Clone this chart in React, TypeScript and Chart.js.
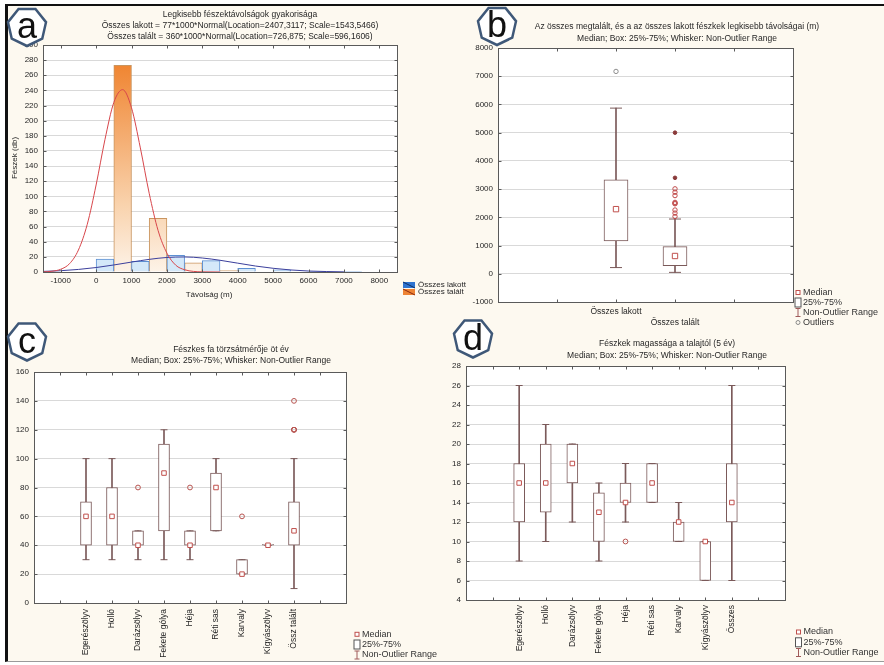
import React, { useEffect, useRef } from 'react';
import { Chart, registerables } from 'chart.js';

Chart.register(...registerables);

const FONT = 'Arial, "Liberation Sans", Helvetica, sans-serif';
Chart.defaults.font.family = FONT;

const TEXT = '#262626';
const BOX = '#7b5a5a';
const MEDIAN = '#c0504d';
const GRID = '#d9d9d9';
const FRAME = '#5a5a5a';
const W = 884;
const H = 665;
const Y_AXIS_W = 30;
const X_AXIS_H = 60;

// ---------------- Panel a: histogram of nearest-nest distances ----------------
const histTitle = [
  'Legkisebb fészektávolságok gyakorisága',
  'Összes lakott = 77*1000*Normal(Location=2407,3117; Scale=1543,5466)',
  'Összes talált = 360*1000*Normal(Location=726,875; Scale=596,1606)',
];
const histSeriesNames = ['Összes lakott', 'Összes talált'];
const histBinCenters = [500, 1500, 2500, 3500, 4500, 5500, 6500, 7500];
const lakottCounts = [17, 14, 22, 15, 5, 3, 1, 1];
const talaltCounts = [273, 71, 12, 2, 0, 0, 0, 0];
const distanceTicks = [-1000, 0, 1000, 2000, 3000, 4000, 5000, 6000, 7000, 8000];
const lakottFitX = [-1500, -1000, -500, 0, 500, 1000, 1500, 2000, 2500, 3000, 3500, 4000, 4500, 5000, 5500, 6000, 6500, 7000];
const lakottFitY = [0.8, 1.7, 3.4, 5.9, 9.3, 13.1, 16.7, 19.2, 19.9, 18.5, 15.5, 11.7, 7.9, 4.9, 2.7, 1.3, 0.6, 0.2];
const talaltFitX = [-1500, -1250, -1000, -750, -500, -250, 0, 250, 500, 750, 1000, 1250, 1500, 1750, 2000, 2250, 2500, 2750, 3000, 3500];
const talaltFitY = [0.2, 1, 3.6, 11, 29, 63, 115, 175, 224, 241, 217, 164, 104, 55, 25, 9, 3, 0.8, 0.2, 0];
const histXTitle = 'Távolság (m)';
const histYTitle = 'Fészek (db)';

// ---------------- Panel b: distances box plot ----------------
const distTitle = [
  'Az összes megtalált, és a az összes lakott fészkek legkisebb távolságai (m)',
  'Median; Box: 25%-75%; Whisker: Non-Outlier Range',
];
const distCategories = ['Összes lakott', 'Összes talált'];
const distMin = [220, 50];
const distQ1 = [1160, 290];
const distMedian = [2290, 630];
const distQ3 = [3330, 960];
const distMax = [5870, 1940];
const distOutlierGroup = ['Összes lakott', 'Összes talált', 'Összes talált', 'Összes talált', 'Összes talált', 'Összes talált', 'Összes talált', 'Összes talált', 'Összes talált', 'Összes talált'];
const distOutlierValue = [7170, 3010, 2890, 2770, 2530, 2500, 2480, 2260, 2150, 2030];
const distExtremeGroup = ['Összes talált', 'Összes talált'];
const distExtremeValue = [5000, 3400];

// ---------------- Panel c: trunk diameter ----------------
const dbhTitle = ['Fészkes fa törzsátmérője öt év', 'Median; Box: 25%-75%; Whisker: Non-Outlier Range'];
const dbhSpecies = ['Egerészölyv', 'Holló', 'Darázsölyv', 'Fekete gólya', 'Héja', 'Réti sas', 'Karvaly', 'Kígyászölyv', 'Össz talált'];
const dbhMin = [30, 30, 30, 30, 30, 50, 20, 40, 10];
const dbhQ1 = [40, 40, 40, 50, 40, 50, 20, 40, 40];
const dbhMedian = [60, 60, 40, 90, 40, 80, 20, 40, 50];
const dbhQ3 = [70, 80, 50, 110, 50, 90, 30, 40, 70];
const dbhMax = [100, 100, 50, 120, 50, 100, 30, 40, 100];
const dbhOutlierGroup = ['Darázsölyv', 'Héja', 'Karvaly', 'Össz talált', 'Össz talált', 'Össz talált', 'Össz talált'];
const dbhOutlierValue = [80, 80, 60, 140, 120, 120, 120];

// ---------------- Panel d: nest height ----------------
const heightTitle = ['Fészkek magassága a talajtól (5 év)', 'Median; Box: 25%-75%; Whisker: Non-Outlier Range'];
const heightSpecies = ['Egerészölyv', 'Holló', 'Darázsölyv', 'Fekete gólya', 'Héja', 'Réti sas', 'Karvaly', 'Kígyászölyv', 'Összes'];
const heightMin = [8, 10, 12, 8, 12, 14, 10, 6, 6];
const heightQ1 = [12, 13, 16, 10, 14, 14, 10, 6, 12];
const heightMedian = [16, 16, 18, 13, 14, 16, 12, 10, 14];
const heightQ3 = [18, 20, 20, 15, 16, 18, 12, 10, 18];
const heightMax = [26, 22, 20, 16, 18, 18, 14, 10, 26];
const heightOutlierGroup = ['Héja'];
const heightOutlierValue = [10];

const boxLegendLabels = ['Median', '25%-75%', 'Non-Outlier Range', 'Outliers'];

// ---------------- helpers ----------------
type Area = { left: number; top: number; right: number; bottom: number };

function layoutFor(a: Area) {
  return {
    padding: {
      left: a.left - Y_AXIS_W,
      top: a.top,
      right: W - a.right,
      bottom: Math.max(0, H - a.bottom - X_AXIS_H),
    },
  };
}

function text(ctx: CanvasRenderingContext2D, s: string, x: number, y: number, size = 8.5, align: CanvasTextAlign = 'center', rot = 0, color = TEXT) {
  ctx.save();
  ctx.translate(x, y);
  if (rot) ctx.rotate(rot);
  ctx.font = `${size}px ${FONT}`;
  ctx.fillStyle = color;
  ctx.textAlign = align;
  ctx.textBaseline = 'middle';
  ctx.fillText(s, 0, 0);
  ctx.restore();
}

function panelPlugin(id: string, decorate: (ctx: CanvasRenderingContext2D, chart: any) => void) {
  return {
    id,
    beforeDraw(chart: any) {
      const { ctx, chartArea: a } = chart;
      ctx.save();
      ctx.fillStyle = '#ffffff';
      ctx.fillRect(a.left, a.top, a.right - a.left, a.bottom - a.top);
      ctx.restore();
    },
    afterDraw(chart: any) {
      const { ctx, chartArea: a } = chart;
      const L = Math.round(a.left) + 0.5;
      const T = Math.round(a.top) + 0.5;
      const R = Math.round(a.right) + 0.5;
      const B = Math.round(a.bottom) + 0.5;
      ctx.save();
      ctx.strokeStyle = FRAME;
      ctx.lineWidth = 1;
      ctx.strokeRect(L, T, R - L, B - T);
      ctx.beginPath();
      const xs = chart.scales.x;
      xs.ticks.forEach((t: any) => {
        const p = Math.round(xs.getPixelForValue(t.value)) + 0.5;
        if (p <= L + 1 || p >= R - 1) return;
        ctx.moveTo(p, T);
        ctx.lineTo(p, T + 3);
        ctx.moveTo(p, B);
        ctx.lineTo(p, B - 3);
      });
      const ys = chart.scales.y;
      ys.ticks.forEach((t: any) => {
        const p = Math.round(ys.getPixelForValue(t.value)) + 0.5;
        if (p <= T + 1 || p >= B - 1) return;
        ctx.moveTo(L, p);
        ctx.lineTo(L + 3, p);
        ctx.moveTo(R, p);
        ctx.lineTo(R - 3, p);
      });
      ctx.stroke();
      ctx.restore();
      ctx.save();
      decorate(ctx, chart);
      ctx.restore();
    },
  };
}

function boxLegend(ctx: CanvasRenderingContext2D, tx: number, ys: number[]) {
  const mx = tx - 5;
  ys.forEach((y, i) => {
    ctx.save();
    ctx.lineWidth = 1;
    if (i === 0) {
      ctx.fillStyle = '#fff';
      ctx.strokeStyle = MEDIAN;
      ctx.fillRect(mx - 2, y - 2, 4, 4);
      ctx.strokeRect(mx - 2, y - 2, 4, 4);
    } else if (i === 1) {
      ctx.fillStyle = '#fff';
      ctx.strokeStyle = '#555';
      ctx.fillRect(mx - 3, y - 4.5, 6, 9);
      ctx.strokeRect(mx - 3, y - 4.5, 6, 9);
    } else if (i === 2) {
      ctx.strokeStyle = '#a05a5a';
      ctx.beginPath();
      ctx.moveTo(mx, y - 4);
      ctx.lineTo(mx, y + 4);
      ctx.moveTo(mx - 2.5, y - 4);
      ctx.lineTo(mx + 2.5, y - 4);
      ctx.moveTo(mx - 2.5, y + 4);
      ctx.lineTo(mx + 2.5, y + 4);
      ctx.stroke();
    } else {
      ctx.strokeStyle = '#8a8a8a';
      ctx.beginPath();
      ctx.arc(mx, y, 2, 0, Math.PI * 2);
      ctx.stroke();
    }
    ctx.restore();
    text(ctx, boxLegendLabels[i], tx, y, 9, 'left', 0, '#333');
  });
}

function yScale(min: number, max: number, step: number) {
  return {
    type: 'linear',
    min,
    max,
    beginAtZero: false,
    ticks: { stepSize: step, padding: 5, color: TEXT, font: { size: 8 }, callback: (v: any) => String(v) },
    grid: { color: GRID, drawTicks: false, lineWidth: 1 },
    border: { display: false },
    afterFit: (s: any) => {
      s.width = Y_AXIS_W;
    },
  };
}

function baseOptions(area: Area, x: any, y: any) {
  return {
    responsive: false,
    maintainAspectRatio: false,
    animation: false,
    devicePixelRatio: 1,
    events: [],
    layout: layoutFor(area),
    plugins: { legend: { display: false }, title: { display: false }, tooltip: { enabled: false } },
    scales: { x, y },
  };
}

// ---------------- chart configs ----------------
function makeHistogram() {
  const area = { left: 43, top: 45, right: 397, bottom: 272 };
  const orange = (c: any) => {
    const a = c.chart.chartArea;
    if (!a) return '#f5b57a';
    const g = c.chart.ctx.createLinearGradient(0, a.bottom, 0, a.top);
    g.addColorStop(0, '#fdf3e8');
    g.addColorStop(0.3, '#f9d2ac');
    g.addColorStop(1, '#ee7a20');
    return g;
  };
  const x = {
    type: 'linear',
    min: -1500,
    max: 8500,
    offset: false,
    afterBuildTicks: (s: any) => {
      s.ticks = distanceTicks.map((v) => ({ value: v }));
    },
    ticks: { padding: 4, color: TEXT, font: { size: 8 }, autoSkip: false, maxRotation: 0, callback: (v: any) => String(v) },
    grid: { display: false, drawTicks: false, offset: false },
    border: { display: false },
    afterFit: (s: any) => {
      s.height = X_AXIS_H;
    },
  };
  return {
    type: 'bar',
    data: {
      datasets: [
        {
          type: 'line',
          label: 'Összes talált – Normal',
          order: 0,
          data: talaltFitX.map((v, i) => ({ x: v, y: talaltFitY[i] })),
          borderColor: '#d8464b',
          borderWidth: 1,
          pointRadius: 0,
          cubicInterpolationMode: 'monotone',
          fill: false,
        },
        {
          type: 'line',
          label: 'Összes lakott – Normal',
          order: 0,
          data: lakottFitX.map((v, i) => ({ x: v, y: lakottFitY[i] })),
          borderColor: '#3b3f9c',
          borderWidth: 1,
          pointRadius: 0,
          cubicInterpolationMode: 'monotone',
          fill: false,
        },
        {
          type: 'bar',
          label: histSeriesNames[0],
          order: 1,
          data: histBinCenters.map((v, i) => ({ x: v, y: lakottCounts[i] })),
          backgroundColor: '#d4e8f9',
          borderColor: '#5d90d2',
          borderWidth: 1,
          categoryPercentage: 1,
          barPercentage: 1,
        },
        {
          type: 'bar',
          label: histSeriesNames[1],
          order: 1,
          data: histBinCenters.map((v, i) => ({ x: v, y: talaltCounts[i] })),
          backgroundColor: orange,
          borderColor: '#c9955f',
          borderWidth: 1,
          categoryPercentage: 1,
          barPercentage: 1,
        },
      ],
    },
    options: baseOptions(area, x, yScale(0, 300, 20)),
    plugins: [
      panelPlugin('panelA', (ctx) => {
        histTitle.forEach((s, i) => text(ctx, s, 240, 15 + i * 10.8, 8.5));
        text(ctx, histYTitle, 15, 158, 8, 'center', -Math.PI / 2);
        text(ctx, histXTitle, 209, 295, 8);
        const sw = ['#2f74d0', '#ee8434'];
        histSeriesNames.forEach((s, i) => {
          const y = 282 + i * 7;
          ctx.fillStyle = sw[i];
          ctx.fillRect(403, y, 12, 6);
          ctx.strokeStyle = i === 0 ? '#0d2f66' : '#8a2a10';
          ctx.lineWidth = 1;
          ctx.beginPath();
          ctx.moveTo(403, y);
          ctx.lineTo(415, y + 6);
          ctx.stroke();
          text(ctx, s, 418, y + 3.2, 8, 'left');
        });
      }),
    ],
  };
}

type BoxSpec = {
  id: string;
  area: Area;
  cats: string[];
  mins: number[];
  q1s: number[];
  meds: number[];
  q3s: number[];
  maxs: number[];
  outCats: string[];
  outVals: number[];
  extCats?: string[];
  extVals?: number[];
  yMin: number;
  yMax: number;
  yStep: number;
  xMax: number;
  boxW: number;
  capR: number;
  medR: number;
  outR: number;
  stagger: boolean;
  rotate: boolean;
  labelPad: number;
  outColor: (x: number) => string;
  decorate: (ctx: CanvasRenderingContext2D, chart: any) => void;
};

function makeBoxChart(p: BoxSpec) {
  const pos = (name: string) => p.cats.indexOf(name) + 2;
  const at = (i: number) => i + 2;
  const caps: any[] = [];
  p.cats.forEach((_, i) => {
    caps.push({ x: at(i), y: p.mins[i] });
    caps.push({ x: at(i), y: p.maxs[i] });
  });
  const datasets: any[] = [
    {
      type: 'scatter',
      label: 'Outliers',
      order: 0,
      data: p.outCats.map((c, i) => ({ x: pos(c), y: p.outVals[i] })),
      pointStyle: 'circle',
      pointRadius: p.outR,
      pointBorderWidth: 1,
      pointBorderColor: (c: any) => p.outColor(c.raw ? c.raw.x : 0),
      pointBackgroundColor: 'rgba(255,255,255,0)',
    },
    {
      type: 'scatter',
      label: 'Median',
      order: 1,
      data: p.meds.map((m, i) => ({ x: at(i), y: m })),
      pointStyle: 'rect',
      pointRadius: p.medR,
      pointBorderWidth: 1,
      pointBorderColor: MEDIAN,
      pointBackgroundColor: '#ffffff',
    },
    {
      type: 'scatter',
      label: 'Whisker caps',
      order: 2,
      data: caps,
      pointStyle: 'line',
      pointRadius: p.capR,
      pointBorderWidth: 1,
      pointBorderColor: BOX,
    },
    {
      type: 'bar',
      label: '25%-75%',
      order: 3,
      grouped: false,
      barThickness: p.boxW,
      minBarLength: 1,
      data: p.q1s.map((q, i) => ({ x: at(i), y: [q, p.q3s[i]] })),
      backgroundColor: '#ffffff',
      borderColor: BOX,
      borderWidth: 1,
      borderSkipped: false,
    },
    {
      type: 'bar',
      label: 'Non-Outlier Range',
      order: 4,
      grouped: false,
      barThickness: 1,
      data: p.mins.map((m, i) => ({ x: at(i), y: [m, p.maxs[i]] })),
      backgroundColor: BOX,
      borderWidth: 0,
    },
  ];
  if (p.extCats && p.extVals) {
    datasets.unshift({
      type: 'scatter',
      label: 'Extremes',
      order: 0,
      data: p.extCats.map((c, i) => ({ x: pos(c), y: (p.extVals as number[])[i] })),
      pointStyle: 'circle',
      pointRadius: 1.8,
      pointBorderWidth: 1,
      pointBorderColor: '#8a3a3a',
      pointBackgroundColor: '#8a3a3a',
    });
  }
  const x = {
    type: 'linear',
    min: 0,
    max: p.xMax,
    offset: false,
    ticks: {
      stepSize: 1,
      padding: p.labelPad,
      color: TEXT,
      font: { size: 8.5 },
      autoSkip: false,
      minRotation: p.rotate ? 90 : 0,
      maxRotation: p.rotate ? 90 : 0,
      callback: (v: any) => {
        const i = Number(v) - 2;
        const s = p.cats[i];
        if (!s) return '';
        return p.stagger && i % 2 === 1 ? ['', s] : s;
      },
    },
    grid: { display: false, drawTicks: false, offset: false },
    border: { display: false },
    afterFit: (s: any) => {
      s.height = X_AXIS_H;
    },
  };
  return {
    type: 'bar',
    data: { datasets },
    options: baseOptions(p.area, x, yScale(p.yMin, p.yMax, p.yStep)),
    plugins: [panelPlugin(p.id, p.decorate)],
  };
}

function makeDistanceBox() {
  return makeBoxChart({
    id: 'panelB',
    area: { left: 498, top: 48, right: 793, bottom: 302 },
    cats: distCategories,
    mins: distMin,
    q1s: distQ1,
    meds: distMedian,
    q3s: distQ3,
    maxs: distMax,
    outCats: distOutlierGroup,
    outVals: distOutlierValue,
    extCats: distExtremeGroup,
    extVals: distExtremeValue,
    yMin: -1000,
    yMax: 8000,
    yStep: 1000,
    xMax: 5,
    boxW: 24,
    capR: 6,
    medR: 3.8,
    outR: 2.2,
    stagger: true,
    rotate: false,
    labelPad: 5,
    outColor: (x) => (x === 2 ? '#8f8f8f' : '#c24c4c'),
    decorate: (ctx) => {
      distTitle.forEach((s, i) => text(ctx, s, 677, 27 + i * 11.5, 8.5));
      boxLegend(ctx, 803, [292.5, 302.5, 312.5, 322.5]);
    },
  });
}

function makeDbhBox() {
  return makeBoxChart({
    id: 'panelC',
    area: { left: 34, top: 372, right: 346, bottom: 603 },
    cats: dbhSpecies,
    mins: dbhMin,
    q1s: dbhQ1,
    meds: dbhMedian,
    q3s: dbhQ3,
    maxs: dbhMax,
    outCats: dbhOutlierGroup,
    outVals: dbhOutlierValue,
    yMin: 0,
    yMax: 160,
    yStep: 20,
    xMax: 12,
    boxW: 11,
    capR: 3.5,
    medR: 3.2,
    outR: 2.4,
    stagger: false,
    rotate: true,
    labelPad: 6,
    outColor: () => '#b85450',
    decorate: (ctx) => {
      dbhTitle.forEach((s, i) => text(ctx, s, 231, 349.5 + i * 11.5, 8.5));
      boxLegend(ctx, 362, [634.3, 644.5, 655]);
    },
  });
}

function makeHeightBox() {
  return makeBoxChart({
    id: 'panelD',
    area: { left: 466, top: 366, right: 785, bottom: 600 },
    cats: heightSpecies,
    mins: heightMin,
    q1s: heightQ1,
    meds: heightMedian,
    q3s: heightQ3,
    maxs: heightMax,
    outCats: heightOutlierGroup,
    outVals: heightOutlierValue,
    yMin: 4,
    yMax: 28,
    yStep: 2,
    xMax: 12,
    boxW: 11,
    capR: 3.5,
    medR: 3.2,
    outR: 2.4,
    stagger: false,
    rotate: true,
    labelPad: 5,
    outColor: () => '#b85450',
    decorate: (ctx) => {
      heightTitle.forEach((s, i) => text(ctx, s, 667, 343.5 + i * 12, 8.5));
      boxLegend(ctx, 803.5, [632, 642.3, 652.5]);
    },
  });
}

function ChartCanvas({ make }: { make: () => any }) {
  const ref = useRef<HTMLCanvasElement>(null);
  useEffect(() => {
    if (!ref.current) return;
    const chart = new Chart(ref.current, make());
    return () => chart.destroy();
  }, [make]);
  return (
    <canvas
      ref={ref}
      width={W}
      height={H}
      style={{ position: 'absolute', left: 0, top: 0, width: W, height: H }}
    />
  );
}

function Badge({ letter, cx, cy }: { letter: string; cx: number; cy: number }) {
  const r = 19.5;
  const pts = [0, 1, 2, 3, 4, 5, 6]
    .map((k) => {
      const a = Math.PI / 2 + (k * 2 * Math.PI) / 7;
      return `${(cx + r * Math.cos(a)).toFixed(2)},${(cy + r * Math.sin(a)).toFixed(2)}`;
    })
    .join(' ');
  return (
    <g>
      <polygon points={pts} fill="#ffffff" stroke="#3f5878" strokeWidth={2.5} />
      <text x={cx} y={cy + 11.5} fontSize={36} textAnchor="middle" fontFamily={FONT} fill="#111">
        {letter}
      </text>
    </g>
  );
}

export default function App() {
  return (
    <div style={{ position: 'absolute', left: 0, top: 0, width: W, height: H, background: '#ffffff', overflow: 'hidden' }}>
      <div
        style={{
          position: 'absolute',
          left: 5,
          top: 4,
          width: W - 5,
          height: 658,
          boxSizing: 'border-box',
          background: '#fdf9f0',
          borderTop: '2px solid #111',
          borderLeft: '3px solid #111',
          borderBottom: '1px solid #9a9a9a',
        }}
      />
      <ChartCanvas make={makeHistogram} />
      <ChartCanvas make={makeDistanceBox} />
      <ChartCanvas make={makeDbhBox} />
      <ChartCanvas make={makeHeightBox} />
      <svg width={W} height={H} style={{ position: 'absolute', left: 0, top: 0, pointerEvents: 'none' }}>
        <Badge letter="a" cx={27} cy={26.5} />
        <Badge letter="b" cx={497} cy={25.5} />
        <Badge letter="c" cx={27} cy={341} />
        <Badge letter="d" cx={473} cy={338} />
      </svg>
    </div>
  );
}
